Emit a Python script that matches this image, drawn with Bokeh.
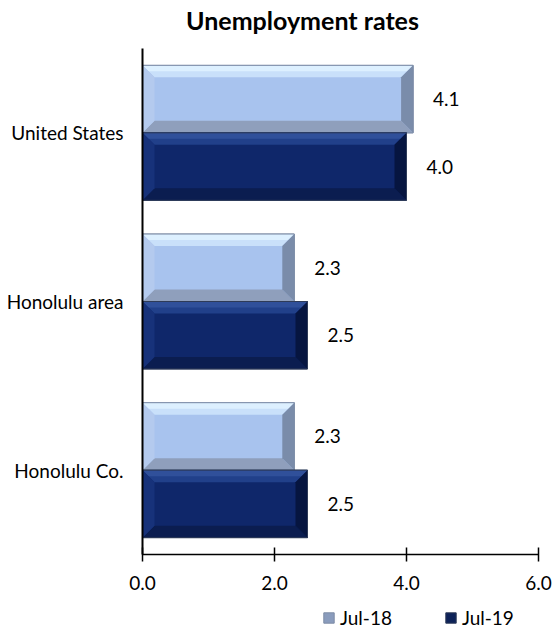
from bokeh.plotting import figure
from bokeh.models import (Range1d, FixedTicker, NumeralTickFormatter,
                          Legend, LegendItem, LinearAxis, Label)
from bokeh.core.properties import value
from bokeh.embed import file_html
from bokeh.resources import INLINE

# ---- data -------------------------------------------------------------
categories = ["Honolulu Co.", "Honolulu area", "United States"]
series_names = ["Jul-18", "Jul-19"]
jul18 = [2.3, 2.3, 4.1]
jul19 = [2.5, 2.5, 4.0]
x_ticks = [0, 2, 4, 6]
x_min, x_max = 0, 6
title_text = "Unemployment rates"

# ---- layout / styling (pixels) ----------------------------------------
FONT = "Lato"
FS = "19px"
W, H = 555, 630
PLOT_L, PLOT_R = 142, 538      # x pixel of x_min / x_max
PLOT_T, PLOT_B = 48, 554       # y pixel of top / bottom of category area
N = len(categories)
BAR_H = 0.4
BEVEL_PX = 12

px_x = (PLOT_R - PLOT_L) / (x_max - x_min)
band_px = (PLOT_B - PLOT_T) / N
X0 = x_min - PLOT_L / px_x
X1 = x_max + (W - PLOT_R) / px_x
Y0 = -0.5 - (H - PLOT_B) / band_px
Y1 = N - 0.5 + PLOT_T / band_px
bx = BEVEL_PX / px_x
by = BEVEL_PX / band_px

styles = {
    "Jul-18": dict(body="#A8C3EE", top="#C9E0FA", hi="#DDF0FF", left="#B4CAEE",
                   right="#7A8CAA", bottom="#8F9FBC", outline="#7D8CA6",
                   legend="#8A9CBD"),
    "Jul-19": dict(body="#0F276A", top="#21408A", hi="#30509A", left="#17327A",
                   right="#061540", bottom="#0B1D50", outline="#2E3B58",
                   legend="#0D2258"),
}

p = figure(width=W, height=H, output_backend="svg", toolbar_location=None,
           x_range=Range1d(X0, X1), y_range=Range1d(Y0, Y1),
           x_axis_type=None, y_axis_type=None,
           min_border_left=0, min_border_right=0,
           min_border_top=0, min_border_bottom=0)
p.outline_line_color = None
p.grid.grid_line_color = None
p.background_fill_color = "white"
p.border_fill_color = "white"

ypos = list(range(N))
legend_items = []
for name, vals, shift in [("Jul-18", jul18, BAR_H / 2), ("Jul-19", jul19, -BAR_H / 2)]:
    st = styles[name]
    x0s = [float(x_min)] * len(vals)
    x1s = list(vals)
    yc = [y + shift for y in ypos]
    y0s = [c - BAR_H / 2 for c in yc]
    y1s = [c + BAR_H / 2 for c in yc]
    # swatch colour renderer (hidden under the bar, used for legend)
    lr = p.quad(left=x0s, right=x1s, bottom=y0s, top=y1s,
                fill_color=st["legend"], line_color=st["outline"])
    # body
    p.quad(left=x0s, right=x1s, bottom=y0s, top=y1s,
           fill_color=st["body"], line_color=None)

    # bevel facets
    def facet(xs_fn, ys_fn, color):
        xs = [xs_fn(a, b) for a, b in zip(x0s, x1s)]
        ys = [ys_fn(a, b) for a, b in zip(y0s, y1s)]
        p.patches(xs=xs, ys=ys, fill_color=color, line_color=None)
    facet(lambda a, b: [a, b, b - bx, a + bx], lambda c, d: [d, d, d - by, d - by], st["top"])
    facet(lambda a, b: [a, b, b - bx * 0.5, a + bx * 0.5], lambda c, d: [d, d, d - by * 0.5, d - by * 0.5], st["hi"])
    facet(lambda a, b: [a, b, b - bx, a + bx], lambda c, d: [c, c, c + by, c + by], st["bottom"])
    facet(lambda a, b: [a, a + bx, a + bx, a], lambda c, d: [c, c + by, d - by, d], st["left"])
    facet(lambda a, b: [b, b - bx, b - bx, b], lambda c, d: [c, c + by, d - by, d], st["right"])
    # outline
    p.quad(left=x0s, right=x1s, bottom=y0s, top=y1s,
           fill_color=None, line_color=st["outline"], line_width=1)
    # value labels
    p.text(x=x1s, y=yc, text=[f"{v:.1f}" for v in vals], x_offset=20,
           text_align="left", text_baseline="middle",
           text_font=value(FONT), text_font_size=FS, text_color="#000000")
    legend_items.append(LegendItem(label=name, renderers=[lr]))

# x axis at the bottom of the category area
xa = LinearAxis(fixed_location=-0.5, bounds=(x_min, x_max))
xa.ticker = FixedTicker(ticks=x_ticks)
xa.formatter = NumeralTickFormatter(format="0.0")
xa.minor_tick_line_color = None
xa.major_tick_in = 7
xa.major_tick_out = 7
xa.major_tick_line_color = "#000000"
xa.major_tick_line_width = 1.5
xa.axis_line_color = "#000000"
xa.axis_line_width = 1.5
xa.major_label_text_font = FONT
xa.major_label_text_font_size = FS
xa.major_label_text_color = "#000000"
xa.major_label_standoff = 14
p.add_layout(xa, "below")

# category axis at x = 0
ya = LinearAxis(fixed_location=x_min, bounds=(-0.5, N - 0.5))
ya.ticker = FixedTicker(ticks=ypos)
ya.major_label_overrides = {i: c for i, c in enumerate(categories)}
ya.major_tick_line_color = None
ya.minor_tick_line_color = None
ya.axis_line_color = "#000000"
ya.axis_line_width = 2
ya.major_label_text_font = FONT
ya.major_label_text_font_size = FS
ya.major_label_text_color = "#000000"
ya.major_label_standoff = 13
p.add_layout(ya, "left")

# title
p.add_layout(Label(x=302, y=H - 19, x_units="screen", y_units="screen",
                   text=title_text, text_align="center", text_baseline="middle",
                   text_font=FONT, text_font_size="25px", text_font_style="bold",
                   text_color="#000000"))

legend = Legend(items=legend_items, orientation="horizontal",
                location=(322, 1), padding=0, margin=0, spacing=52,
                glyph_width=13, glyph_height=13, label_standoff=5,
                label_text_font=FONT, label_text_font_size=FS,
                label_text_color="#000000", border_line_color=None,
                background_fill_alpha=0)
p.add_layout(legend, "center")

open("out.html", "w").write(file_html(p, INLINE))
